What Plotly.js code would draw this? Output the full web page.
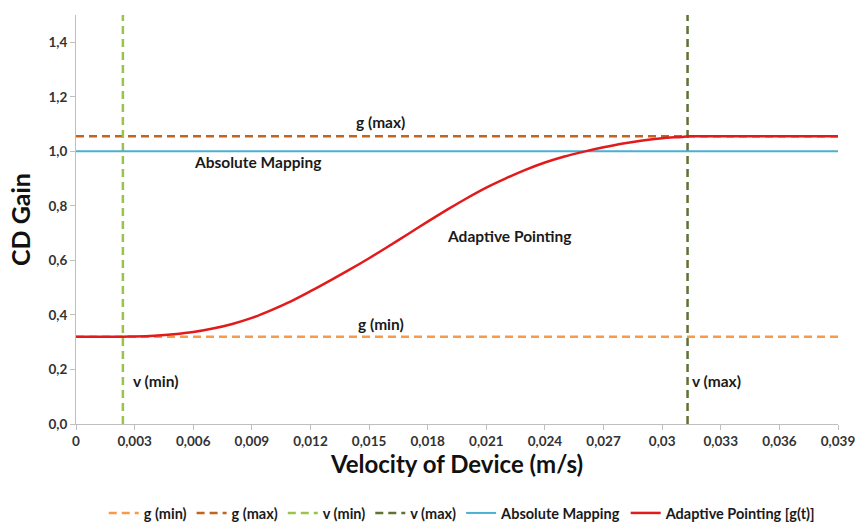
<!DOCTYPE html>
<html>
<head>
<meta charset="utf-8">
<script src="https://cdn.plot.ly/plotly-3.0.1.min.js"></script>
<style>html,body{margin:0;padding:0;background:#fff;}#chart{width:864px;height:529px;}</style>
</head>
<body>
<div id="chart"></div>
<script>
// ---- data ----
const velocity = [0, 0.001, 0.002, 0.0024, 0.003, 0.004, 0.005, 0.006, 0.007, 0.008, 0.009, 0.010,
  0.011, 0.012, 0.013, 0.014, 0.015, 0.016, 0.017, 0.018, 0.019, 0.020, 0.021, 0.022, 0.023,
  0.024, 0.025, 0.026, 0.027, 0.028, 0.029, 0.030, 0.031, 0.0313, 0.032, 0.033, 0.034, 0.035,
  0.036, 0.037, 0.038, 0.039];
const adaptiveGain = [0.32, 0.32, 0.32, 0.32, 0.321, 0.324, 0.329, 0.337, 0.350, 0.367, 0.389, 0.418,
  0.450, 0.487, 0.526, 0.566, 0.608, 0.652, 0.697, 0.742, 0.786, 0.828, 0.867, 0.901, 0.932,
  0.959, 0.981, 0.999, 1.015, 1.029, 1.040, 1.048, 1.053, 1.055, 1.055, 1.055, 1.055, 1.055,
  1.055, 1.055, 1.055, 1.055];
const gMin = 0.32;
const gMax = 1.055;
const vMin = 0.0024;
const vMax = 0.0313;
const absoluteGain = 1.0;
const xRange = [0, 0.039];
const yRange = [0, 1.5];
const xTickVals = [0, 0.003, 0.006, 0.009, 0.012, 0.015, 0.018, 0.021, 0.024, 0.027, 0.03, 0.033, 0.036, 0.039];
const xTickLabels = ["0", "0,003", "0,006", "0,009", "0,012", "0,015", "0,018", "0,021", "0,024", "0,027", "0,03", "0,033", "0,036", "0,039"];
const yTickVals = [0, 0.2, 0.4, 0.6, 0.8, 1.0, 1.2, 1.4];
const yTickLabels = ["0,0", "0,2", "0,4", "0,6", "0,8", "1,0", "1,2", "1,4"];
const seriesNames = ["g (min)", "g (max)", "v (min)", "v (max)", "Absolute Mapping", "Adaptive Pointing [g(t)]"];

const FONT = "Lato, 'Open Sans', sans-serif";
const dashPat = "8px,5px";

const traces = [
  {x: xRange, y: [gMin, gMin], name: seriesNames[0], mode: "lines",
   line: {color: "#F79A4C", width: 2.5, dash: dashPat}},
  {x: xRange, y: [gMax, gMax], name: seriesNames[1], mode: "lines",
   line: {color: "#C0641E", width: 2.5, dash: dashPat}},
  {x: [vMin, vMin], y: [0, 1.52], name: seriesNames[2], mode: "lines",
   line: {color: "#9BC24B", width: 2.5, dash: dashPat}},
  {x: [vMax, vMax], y: [0, 1.52], name: seriesNames[3], mode: "lines",
   line: {color: "#5E7233", width: 2.5, dash: dashPat}},
  {x: xRange, y: [absoluteGain, absoluteGain], name: seriesNames[4], mode: "lines",
   line: {color: "#4BAFD0", width: 2}},
  {x: velocity, y: adaptiveGain, name: seriesNames[5], mode: "lines",
   line: {color: "#E31A1C", width: 2.5, shape: "spline", smoothing: 0.8}}
];

const annFont = {family: FONT, size: 15.5, color: "#1a1a1a", weight: "bold"};
const layout = {
  width: 864, height: 529,
  margin: {l: 76, r: 26, t: 15, b: 105},
  paper_bgcolor: "#fff", plot_bgcolor: "#fff",
  showlegend: true,
  legend: {orientation: "h", x: 0.535, xanchor: "center", xref: "container",
    y: 0.0, yanchor: "bottom", yref: "container",
    font: {family: FONT, size: 14.5, color: "#1a1a1a", weight: "bold"},
    itemwidth: 30, tracegroupgap: 0},
  xaxis: {range: xRange, tickvals: xTickVals, ticktext: xTickLabels,
    showgrid: false, zeroline: false, showline: true, linecolor: "#BFBFBF", linewidth: 1,
    ticks: "outside", ticklen: 5, tickcolor: "#BFBFBF",
    tickfont: {family: FONT, size: 13.5, color: "#333", weight: "bold"},
    title: {text: "Velocity of Device (m/s)", font: {family: FONT, size: 24, color: "#111", weight: "bold"}, standoff: 0},
    automargin: false, fixedrange: true},
  yaxis: {range: yRange, tickvals: yTickVals, ticktext: yTickLabels,
    showgrid: false, zeroline: false, showline: true, linecolor: "#BFBFBF", linewidth: 1,
    ticks: "outside", ticklen: 5, tickcolor: "#BFBFBF",
    tickfont: {family: FONT, size: 13.5, color: "#333", weight: "bold"},
    title: {text: "CD Gain", font: {family: FONT, size: 25, color: "#111", weight: "bold"}, standoff: 10},
    automargin: false, fixedrange: true},
  annotations: [
    {x: 0.0156, y: 1.107, text: "g (max)", showarrow: false, font: annFont},
    {x: 0.0093, y: 0.96, text: "Absolute Mapping", showarrow: false, font: annFont},
    {x: 0.0222, y: 0.69, text: "Adaptive Pointing", showarrow: false, font: annFont},
    {x: 0.0156, y: 0.368, text: "g (min)", showarrow: false, font: annFont},
    {x: 0.0028, y: 0.158, text: "v (min)", showarrow: false, xanchor: "left", font: annFont},
    {x: 0.0314, y: 0.158, text: "v (max)", showarrow: false, xanchor: "left", font: annFont}
  ]
};

Plotly.newPlot("chart", traces, layout, {displayModeBar: false, staticPlot: true});
</script>
</body>
</html>
